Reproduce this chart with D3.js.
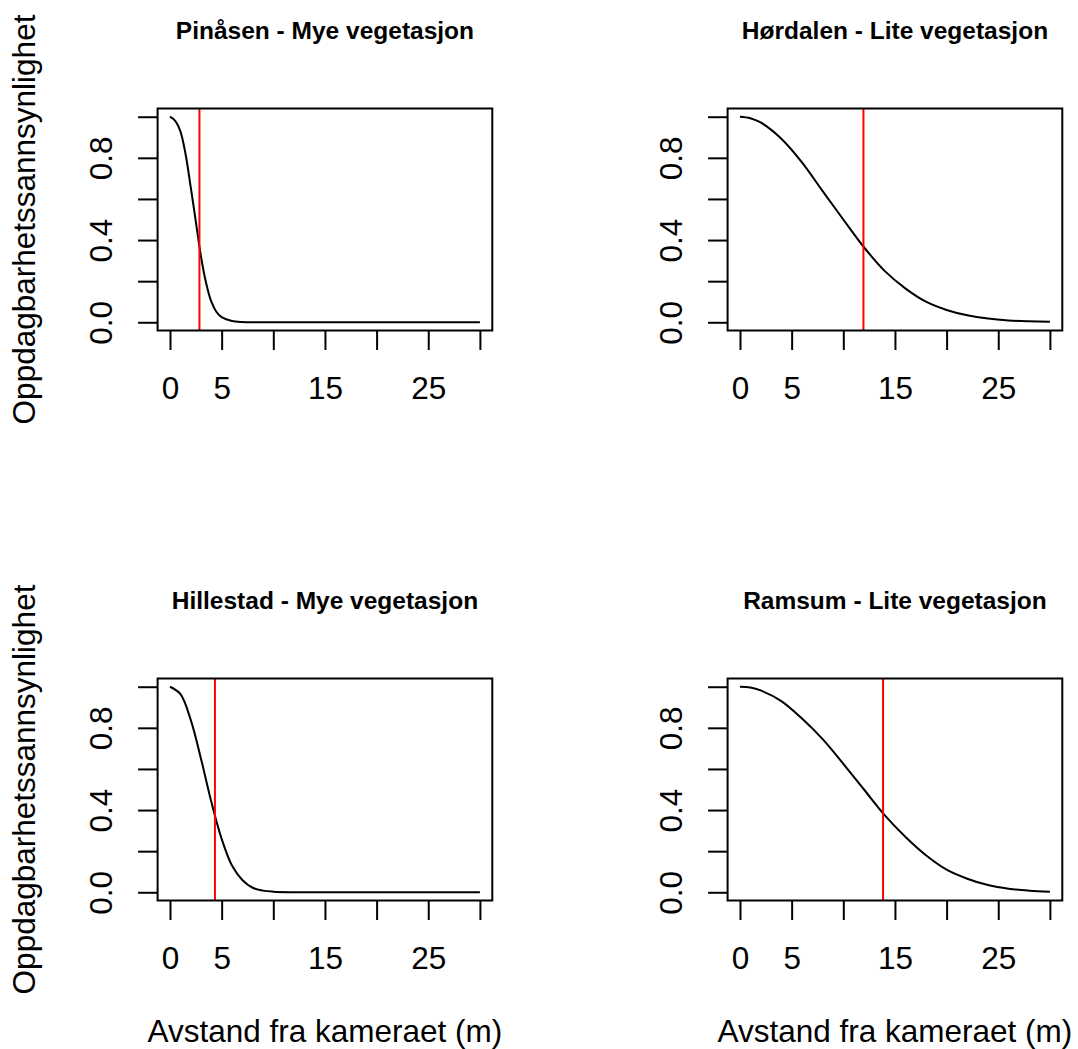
<!DOCTYPE html>
<html>
<head>
<meta charset="utf-8">
<script src="https://cdn.jsdelivr.net/npm/d3@7"></script>
<style>
  body { margin: 0; background: #fff; }
  svg text { font-family: "Liberation Sans", Arial, sans-serif; fill: #000; }
</style>
</head>
<body>
<div id="chart"></div>
<script>
// panel titles, row by row
const panelTitles = [
  "Pinåsen - Mye vegetasjon",
  "Hørdalen - Lite vegetasjon",
  "Hillestad - Mye vegetasjon",
  "Ramsum - Lite vegetasjon"
];

// detection curves (distance in m, probability)
const pinasenDist = [0, 0.5, 1, 1.5, 2, 2.5, 3, 3.5, 4, 4.5, 5, 6, 7, 8, 10, 30];
const pinasenProb = [1.00, 0.98, 0.93, 0.82, 0.66, 0.49, 0.32, 0.19, 0.10, 0.05, 0.025, 0.006, 0.001, 0, 0, 0];

const hordalenDist = [0, 1, 2, 4, 6, 8, 10, 12, 14, 16, 18, 20, 22, 24, 26, 28, 30];
const hordalenProb = [1.00, 0.993, 0.972, 0.893, 0.778, 0.638, 0.50, 0.365, 0.25, 0.165, 0.10, 0.06, 0.034, 0.018, 0.009, 0.005, 0.003];

const hillestadDist = [0, 1, 2, 3, 4, 5, 6, 7, 8, 9, 10, 12, 14, 30];
const hillestadProb = [1.00, 0.965, 0.84, 0.65, 0.44, 0.26, 0.13, 0.06, 0.022, 0.008, 0.003, 0.0005, 0, 0];

const ramsumDist = [0, 1, 2, 4, 6, 8, 10, 12, 14, 16, 18, 20, 22, 24, 26, 28, 30];
const ramsumProb = [1.00, 0.996, 0.982, 0.93, 0.845, 0.745, 0.625, 0.50, 0.375, 0.27, 0.18, 0.11, 0.066, 0.035, 0.017, 0.008, 0.003];

// red vertical reference lines (m)
const redLines = [2.85, 11.95, 4.35, 13.85];

// axis ticks and which of them carry a label
const xTicks = [0, 5, 10, 15, 20, 25, 30];
const xLabelled = [0, 5, 15, 25];
const yTicks = [0, 0.2, 0.4, 0.6, 0.8, 1.0];
const yLabelled = [0, 0.4, 0.8];

const xTitle = "Avstand fra kameraet (m)";
const yTitle = "Oppdagbarhetssannsynlighet";

const curves = [
  { dist: pinasenDist, prob: pinasenProb },
  { dist: hordalenDist, prob: hordalenProb },
  { dist: hillestadDist, prob: hillestadProb },
  { dist: ramsumDist, prob: ramsumProb }
];

const W = 1078, H = 1049;
const box = { left: 157.6, top: 108.5, width: 334.7, height: 222 }; // plot box of first panel
const step = 570;   // offset between panels
const tickLen = 19.5;
const labelSize = "31.5px";

const svg = d3.select("#chart").append("svg")
    .attr("width", W)
    .attr("height", H);

curves.forEach((c, i) => {
  const col = i % 2, row = Math.floor(i / 2);
  const g = svg.append("g")
      .attr("transform", `translate(${box.left + col * step},${box.top + row * step})`);

  // R style 4% padding on both axes
  const x = d3.scaleLinear().domain([-1.2, 31.2]).range([0, box.width]);
  const y = d3.scaleLinear().domain([-0.04, 1.04]).range([box.height, 0]);

  // x axis
  const xg = g.append("g")
      .attr("transform", `translate(0,${box.height})`)
      .call(d3.axisBottom(x).tickValues(xTicks).tickSize(tickLen)
        .tickFormat(d => xLabelled.includes(d) ? d : ""));
  xg.select(".domain").remove();
  xg.selectAll("line").attr("stroke", "#000").attr("stroke-width", 2);
  xg.selectAll("text")
      .attr("y", 68.8).attr("dy", 0)
      .style("font-size", labelSize)
      .attr("fill", "#000");

  // y axis, labels rotated like R
  const yg = g.append("g")
      .call(d3.axisLeft(y).tickValues(yTicks).tickSize(tickLen)
        .tickFormat(d => yLabelled.some(v => Math.abs(v - d) < 1e-9) ? d3.format(".1f")(d) : ""));
  yg.select(".domain").remove();
  yg.selectAll("line").attr("stroke", "#000").attr("stroke-width", 2);
  yg.selectAll("text")
      .attr("transform", "rotate(-90)")
      .attr("x", 0).attr("y", -45.6).attr("dy", 0)
      .attr("text-anchor", "middle")
      .style("font-size", labelSize)
      .attr("fill", "#000");

  // curve
  const pts = c.dist.map((d, k) => [d, c.prob[k]]);
  g.append("path")
      .datum(pts)
      .attr("fill", "none")
      .attr("stroke", "#000")
      .attr("stroke-width", 2)
      .attr("d", d3.line().x(d => x(d[0])).y(d => y(d[1])).curve(d3.curveCatmullRom.alpha(0.5)));

  // red line
  g.append("line")
      .attr("x1", x(redLines[i])).attr("x2", x(redLines[i]))
      .attr("y1", 0).attr("y2", box.height)
      .attr("stroke", "#ff0000")
      .attr("stroke-width", 2);

  // box
  g.append("rect")
      .attr("width", box.width).attr("height", box.height)
      .attr("fill", "none")
      .attr("stroke", "#000")
      .attr("stroke-width", 2);

  // title
  g.append("text")
      .attr("x", box.width / 2)
      .attr("y", 39.3 - box.top)
      .attr("text-anchor", "middle")
      .style("font-size", "24.5px")
      .style("font-weight", "bold")
      .text(panelTitles[i]);

  if (col === 0) {
    g.append("text")
        .attr("transform", `translate(${35 - box.left},${box.height / 2}) rotate(-90)`)
        .attr("text-anchor", "middle")
        .style("font-size", labelSize)
        .text(yTitle);
  }
  if (row === 1) {
    g.append("text")
        .attr("x", box.width / 2)
        .attr("y", 1042.3 - box.top - step)
        .attr("text-anchor", "middle")
        .style("font-size", labelSize)
        .text(xTitle);
  }
});
</script>
</body>
</html>
